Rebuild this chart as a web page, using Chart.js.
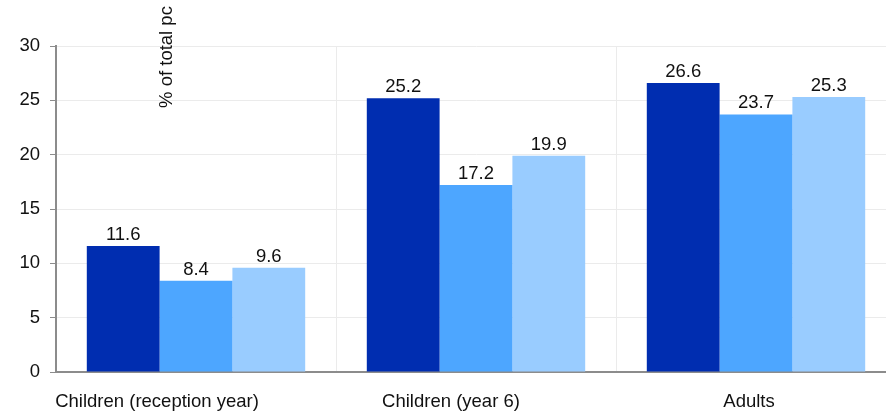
<!DOCTYPE html>
<html>
<head>
<meta charset="utf-8">
<script src="https://cdn.jsdelivr.net/npm/chart.js@4"></script>
<style>
  html, body { margin: 0; padding: 0; overflow: hidden; background: #fff; }
  #wrap { width: 898px; height: 412px; position: relative; }
</style>
</head>
<body>
<div id="wrap"><canvas id="chart"></canvas></div>
<script>
// categories and series
const categories = ['Children (reception year)', 'Children (year 6)', 'Adults'];
const seriesA = [11.6, 25.2, 26.6];
const seriesB = [8.4, 17.2, 23.7];
const seriesC = [9.6, 19.9, 25.3];
const yTicks = [0, 5, 10, 15, 20, 25, 30];
const yTitle = '% of total pc';

const colors = ['#002db0', '#4da6ff', '#99ccff'];
const FONT = '"Liberation Sans", Arial, sans-serif';
const FS = 18.5;
// category labels in the original sit a bit left of their groups
const labelShift = [-39, -25, -7];

// value labels above each bar
const barLabels = {
    id: 'barLabels',
    afterDatasetsDraw(chart) {
        const ctx = chart.ctx;
        ctx.save();
        ctx.font = FS + 'px ' + FONT;
        ctx.fillStyle = '#111';
        ctx.textAlign = 'center';
        ctx.textBaseline = 'alphabetic';
        chart.data.datasets.forEach((ds, i) => {
            chart.getDatasetMeta(i).data.forEach((bar, j) => {
                ctx.fillText(ds.data[j].toFixed(1), bar.x, bar.y - 6);
            });
        });
        ctx.restore();
    }
};

// rotated axis title inside the plot, plus category labels
const extraText = {
    id: 'extraText',
    afterDraw(chart) {
        const ctx = chart.ctx;
        ctx.save();
        ctx.font = FS + 'px ' + FONT;
        ctx.fillStyle = '#111';
        ctx.textAlign = 'center';
        ctx.textBaseline = 'alphabetic';
        const x = chart.scales.x;
        categories.forEach((c, i) => {
            ctx.fillText(c, x.getPixelForValue(i) + labelShift[i], 407);
        });
        ctx.translate(172, 57);
        ctx.rotate(-Math.PI / 2);
        ctx.textBaseline = 'alphabetic';
        ctx.fillText(yTitle, 0, 0);
        ctx.restore();
    }
};

new Chart(document.getElementById('chart').getContext('2d'), {
    type: 'bar',
    data: {
        labels: categories,
        datasets: [
            { label: 'A', data: seriesA, backgroundColor: colors[0] },
            { label: 'B', data: seriesB, backgroundColor: colors[1] },
            { label: 'C', data: seriesC, backgroundColor: colors[2] }
        ]
    },
    options: {
        responsive: true,
        maintainAspectRatio: false,
        animation: false,
        layout: { padding: { top: 46, right: 2, left: 0, bottom: 0 } },
        datasets: { bar: { categoryPercentage: 0.78, barPercentage: 1.0 } },
        plugins: { legend: { display: false }, tooltip: { enabled: false } },
        scales: {
            x: {
                grid: { color: '#ebebeb', lineWidth: 1, drawTicks: false, offset: true },
                border: { color: '#8c8c8c', width: 2 },
                ticks: { display: false },
                afterFit(scale) { scale.height = 40; }
            },
            y: {
                min: 0,
                max: 30,
                afterBuildTicks(scale) { scale.ticks = yTicks.map(v => ({ value: v })); },
                grid: { color: '#ebebeb', lineWidth: 1, tickLength: 6, tickColor: '#8c8c8c' },
                border: { color: '#8c8c8c', width: 2 },
                ticks: { color: '#111', font: { family: FONT, size: FS }, padding: 10 },
                afterFit(scale) { scale.width = 56; }
            }
        }
    },
    plugins: [barLabels, extraText]
});
</script>
</body>
</html>
